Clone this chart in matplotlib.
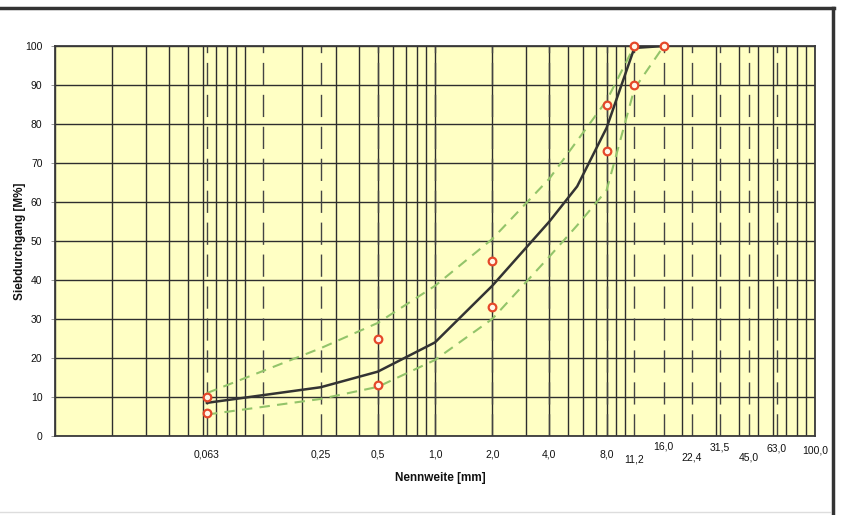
import matplotlib
matplotlib.use("Agg")
import matplotlib.pyplot as plt
from matplotlib.lines import Line2D
from matplotlib.ticker import LogLocator, NullFormatter, FixedLocator
import matplotlib.transforms as mtrans
import numpy as np

plt.rcParams['font.family'] = ['Liberation Sans', 'DejaVu Sans']

# Sieve sizes (mm) and their labels
sieve_sizes = [0.063, 0.125, 0.25, 0.5, 1.0, 2.0, 4.0, 8.0, 11.2, 16.0, 22.4, 31.5, 45.0, 63.0]
tick_values = [0.063, 0.25, 0.5, 1.0, 2.0, 4.0, 8.0, 11.2, 16.0, 22.4, 31.5, 45.0, 63.0, 100.0]
tick_labels = ["0,063", "0,25", "0,5", "1,0", "2,0", "4,0", "8,0", "11,2", "16,0",
               "22,4", "31,5", "45,0", "63,0", "100,0"]
tick_label_dy = [0, 0, 0, 0, 0, 0, 0, -5, 8, -3, 7, -3, 6, 4]  # px, label stagger

# Measured grading curve
curve_x = [0.063, 0.25, 0.5, 1.0, 2.0, 4.0, 5.6, 8.0, 11.2, 16.0]
curve_y = [8.5, 12.5, 16.5, 24.0, 38.5, 55.0, 64.0, 79.0, 99.5, 100.0]

# Upper and lower limit curves (green dashed)
upper_x = [0.063, 0.25, 0.5, 1.0, 2.0, 4.0, 8.0, 11.2]
upper_y = [11.0, 22.5, 29.0, 38.5, 50.5, 66.0, 86.0, 100.0]
lower_x = [0.063, 0.25, 0.5, 1.0, 2.0, 4.0, 5.6, 8.0, 11.2, 16.0]
lower_y = [5.5, 9.5, 12.6, 19.5, 30.0, 46.0, 54.0, 63.0, 89.0, 100.0]

# Tolerance markers (red circles)
marker_x = [0.063, 0.063, 0.5, 0.5, 2.0, 2.0, 8.0, 8.0, 11.2, 11.2, 16.0]
marker_y = [10.0, 6.0, 25.0, 13.0, 45.0, 33.0, 85.0, 73.0, 90.0, 100.0, 100.0]

y_ticks = list(range(0, 101, 10))

W, H = 854, 515
fig = plt.figure(figsize=(W / 100, H / 100), dpi=100)
fig.patch.set_facecolor('white')
ax = fig.add_axes([55 / W, 1 - 436 / H, 760 / W, 390 / H])
ax.set_facecolor('#FFFFC4')
ax.set_xscale('log')
ax.set_xlim(0.01, 100)
ax.set_ylim(0, 100)

gridc = '#2e2e2e'
# log grid (1..9 per decade)
ax.xaxis.set_major_locator(LogLocator(base=10, subs=np.arange(1, 10)))
ax.xaxis.set_minor_locator(FixedLocator([]))
ax.xaxis.set_major_formatter(NullFormatter())
ax.xaxis.set_minor_formatter(NullFormatter())
ax.tick_params(axis='x', which='both', length=0)
ax.grid(True, axis='x', which='major', color=gridc, lw=1.0)

ax.set_yticks(y_ticks)
ax.set_yticklabels([str(v) for v in y_ticks], fontsize=7.5, color='#111111')
ax.tick_params(axis='y', length=3, width=0.6, color='#888888', pad=6)
ax.grid(True, axis='y', color=gridc, lw=1.0)
ax.set_axisbelow(True)

# broken sieve lines
for s in sieve_sizes:
    ax.axvline(s, color='#444444', lw=1.0, dashes=(16, 7), zorder=1.5)

for sp in ax.spines.values():
    sp.set_color('#3a3a3a')
    sp.set_linewidth(1.3)

# curves
ax.plot(upper_x, upper_y, color='#93C46A', lw=1.5, dashes=(5, 3.5), zorder=3)
ax.plot(lower_x, lower_y, color='#93C46A', lw=1.5, dashes=(5, 3.5), zorder=3)
ax.plot(curve_x, curve_y, color='#333333', lw=1.8, zorder=4)
ax.plot(marker_x, marker_y, ls='none', marker='o', ms=5.5, mfc='#FFF6E8',
        mec='#E5482A', mew=1.6, zorder=5, clip_on=False)

# x tick labels (staggered)
for v, lab, dy in zip(tick_values, tick_labels, tick_label_dy):
    tr = mtrans.blended_transform_factory(ax.transData, ax.transAxes)
    off = mtrans.offset_copy(tr, fig=fig, x=0, y=dy * 0.72, units='points')
    ax.text(v, -0.048, lab, transform=off, ha='center', va='center',
            fontsize=7.5, color='#111111')

ax.set_xlabel('Nennweite [mm]', fontsize=8.5, fontweight='bold', color='#111111')
ax.set_ylabel('Siebdurchgang [M%]', fontsize=8.5, fontweight='bold', color='#111111')
ax.xaxis.set_label_coords(0.507, -0.108)
ax.yaxis.set_label_coords(-0.046, 0.5)
ax.yaxis.label.set_va('center')
ax.xaxis.label.set_va('center')

# outer frame
fig.add_artist(Line2D([0, 834 / W], [1 - 8 / H, 1 - 8 / H], color='#333333', lw=2.5,
                      transform=fig.transFigure))
fig.add_artist(Line2D([833 / W, 833 / W], [0, 1 - 8 / H], color='#333333', lw=2.5,
                      transform=fig.transFigure))
fig.add_artist(Line2D([0, 830 / W], [1 - 512 / H, 1 - 512 / H], color='#dddddd', lw=1,
                      transform=fig.transFigure))

fig.savefig('out.png', dpi=100)
